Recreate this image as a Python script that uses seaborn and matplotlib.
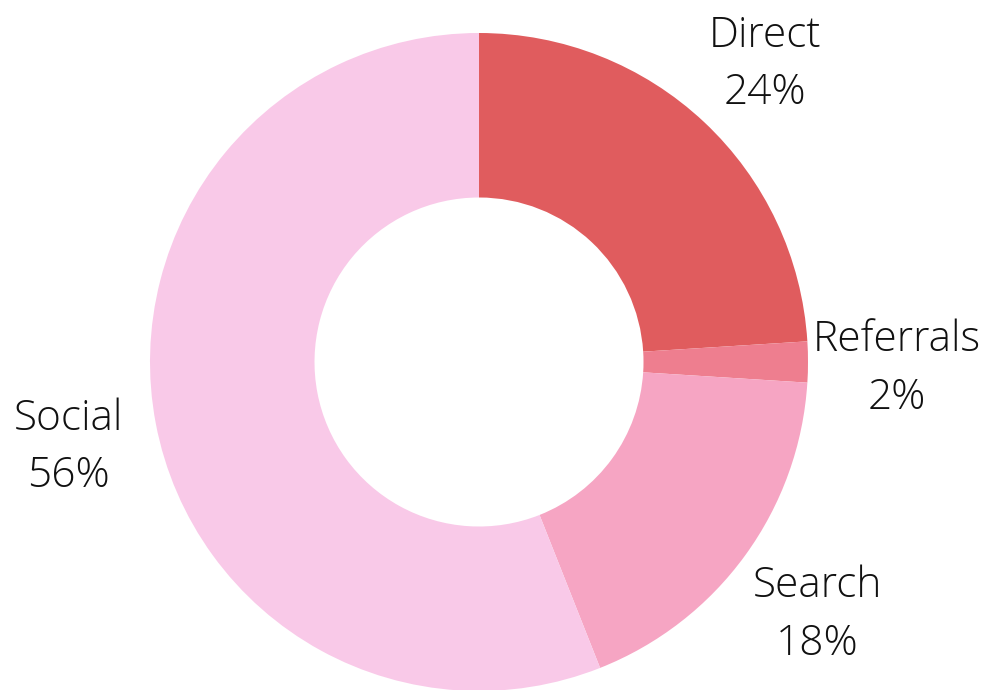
import matplotlib
matplotlib.use("Agg")
import matplotlib.pyplot as plt
import matplotlib.transforms as mtransforms
import seaborn as sns

channels = ["Direct", "Referrals", "Search", "Social"]
shares = [24, 2, 18, 56]
colors = ["#E05C5E", "#EE7E8F", "#F6A5C3", "#F9C9E8"]

sns.set_theme(style="white")
plt.rcParams["font.family"] = ["Open Sans", "DejaVu Sans"]

fig = plt.figure(figsize=(9.87, 6.90), dpi=100)
ax = fig.add_axes([0, 0, 1, 1])

labels = [f"{c}\n{s}%" for c, s in zip(channels, shares)]
wedges, texts = ax.pie(shares, labels=labels, colors=colors, startangle=90,
                       counterclock=False, radius=1, labeldistance=1.27,
                       wedgeprops=dict(width=0.5, edgecolor="none"),
                       textprops=dict(ha="center", va="center", fontsize=30.5,
                                      fontweight="light", color="#111111",
                                      linespacing=1.46))

# nudge labels down a little
shift = mtransforms.offset_copy(ax.transData, fig=fig, x=0, y=-5, units="points")
for t in texts:
    t.set_transform(shift)

# place the donut: centre at (479, 362) px, radius ~329 px
ax.set_aspect("auto")
ax.set_xlim(-479 / 329, (987 - 479) / 329)
ax.set_ylim(-328 / 329, 362 / 329)
ax.axis("off")

fig.savefig("out.png", dpi=100)
